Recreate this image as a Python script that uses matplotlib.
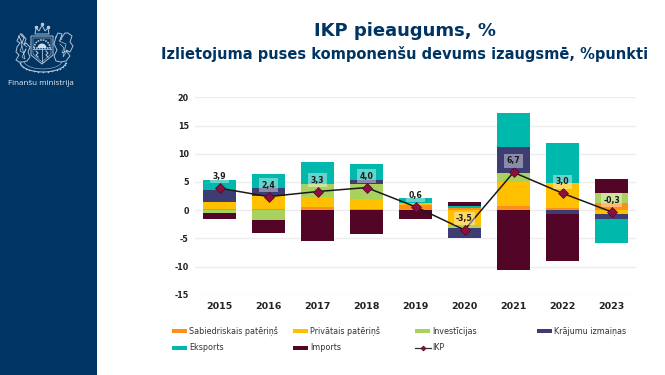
import matplotlib
matplotlib.use('Agg')
import matplotlib.pyplot as plt
from matplotlib.patches import Rectangle, Polygon, Wedge
import numpy as np

plt.rcParams['axes.unicode_minus'] = False

W, H = 665, 375

years = ['2015', '2016', '2017', '2018', '2019', '2020', '2021', '2022', '2023']
sabiedriskais = [0.2, 0.25, 0.6, 0.25, 0.95, 0.3, 0.65, 0.45, 1.3]
privatais = [1.3, 2.2, 1.7, 1.8, 0.3, -2.6, 4.3, 4.3, -0.75]
investicijas = [-0.5, -1.8, 2.3, 2.6, 0.1, -0.6, 1.65, 0.0, 1.8]
krajumi = [2.0, 1.5, 0.0, 0.7, 0.0, -1.8, 4.6, -0.6, -0.8]
eksports = [1.8, 2.4, 4.0, 2.8, 0.8, 0.35, 6.0, 7.1, -4.3]
imports = [-1.0, -2.3, -5.4, -4.2, -1.6, 0.8, -10.6, -8.4, 2.4]
ikp = [3.9, 2.4, 3.3, 4.0, 0.6, -3.5, 6.7, 3.0, -0.3]
ikp_labels = ['3,9', '2,4', '3,3', '4,0', '0,6', '-3,5', '6,7', '3,0', '-0,3']

series = [
    ('Sabiedriskais patēriņš', sabiedriskais, '#FF8F1C'),
    ('Privātais patēriņš', privatais, '#FFC000'),
    ('Investīcijas', investicijas, '#A9D15D'),
    ('Krājumu izmaiņas', krajumi, '#3D3D73'),
    ('Eksports', eksports, '#00B9AC'),
    ('Imports', imports, '#530527'),
]

fig = plt.figure(figsize=(W / 100, H / 100), dpi=100, facecolor='white')

# zila josla kreisaja puse
bg = fig.add_axes([0, 0, 1, 1])
bg.set_xlim(0, W)
bg.set_ylim(H, 0)
bg.axis('off')
bg.add_patch(Rectangle((0, 0), 97, H, color='#003462', lw=0))

# vienkarsots gerbonis
c = '#B4C3D5'
bg.add_patch(Polygon([(31, 36), (53, 36), (53, 55), (42, 64), (31, 55)], fc='none', ec=c, lw=0.7))
bg.add_patch(Polygon([(33, 38), (51, 38), (51, 54), (42, 62), (33, 54)], fc='none', ec=c, lw=0.4))
bg.add_patch(Wedge((42, 48), 8, 180, 360, fc='none', ec=c, lw=1.2, ls=(0, (1, 0.6))))
bg.add_patch(Wedge((42, 48), 4.5, 180, 360, fc='#D3DCE6', lw=0))
bg.plot([33, 51], [48.5, 48.5], color=c, lw=0.6)
bg.plot([42, 42], [48.5, 62], color=c, lw=0.6)
bg.plot([36, 38, 36, 38], [51, 53, 55, 57], color=c, lw=0.8)
bg.plot([46, 48, 46, 48], [51, 53, 55, 57], color=c, lw=0.8)
# saule un zvaigznes virs vairoga
bg.add_patch(Polygon([(35, 34), (36, 28), (39, 31), (42, 25), (45, 31), (48, 28), (49, 34)], fc='none', ec=c, lw=0.7))
bg.plot([36, 42, 48], [27, 24, 27], ls='none', marker='*', ms=2.2, color=c)
# lauva un grifs
bg.plot([19, 17, 20, 17, 16, 19, 16, 19, 23, 27, 30, 28, 30, 26, 24, 26, 22, 20, 24, 22, 19],
        [36, 41, 43, 47, 52, 55, 60, 62, 62, 61, 57, 52, 47, 43, 45, 39, 34, 34, 38, 43, 36], color=c, lw=0.7)
bg.plot([22, 20, 24, 26, 22, 25, 21, 27], [46, 51, 53, 49, 57, 59, 42, 47], color=c, lw=0.5)
bg.plot([56, 58, 62, 60, 65, 68, 72, 70, 73, 70, 66, 70, 66, 61, 56, 54, 57, 54, 56],
        [37, 33, 34, 40, 33, 33, 36, 42, 46, 52, 50, 56, 61, 62, 61, 56, 50, 44, 37], color=c, lw=0.7)
bg.plot([60, 64, 62, 67, 63, 66, 59, 62], [44, 48, 53, 51, 57, 44, 41, 39], color=c, lw=0.5)
# ozola zars
theta = np.linspace(0.1, np.pi - 0.1, 15)
bg.plot(43 + 23 * np.cos(theta), 62 + 10 * np.sin(theta), color=c, lw=0.8, marker='o', ms=1.1, mew=0)
bg.plot(43 + 19 * np.cos(theta), 61 + 8 * np.sin(theta), color=c, lw=0.4)
bg.text(8, 83.5, 'Finanšu ministrija', color='#E6ECF2', fontsize=5.8, family='Open Sans', va='center')

fig.text(405 / W, 1 - 31 / H, 'IKP pieaugums, %', ha='center', va='center',
         fontsize=13, fontweight='bold', color='#003462')
fig.text(405 / W, 1 - 54 / H, 'Izlietojuma puses komponenšu devums izaugsmē, %punkti', ha='center', va='center',
         fontsize=10.5, fontweight='bold', color='#003462')

# grafiks
y_top, y_bot = 97.3, 294.8
ax = fig.add_axes([195 / W, 1 - y_bot / H, 441 / W, (y_bot - y_top) / H])
ax.patch.set_alpha(0)
x = np.arange(len(years))

pos = np.zeros(len(years))
neg = np.zeros(len(years))
for name, vals, col in series:
    vals = np.array(vals)
    bottom = np.where(vals >= 0, pos, neg)
    ax.bar(x, vals, 0.67, bottom=bottom, color=col, lw=0, zorder=2, label=name)
    pos = pos + np.where(vals > 0, vals, 0)
    neg = neg + np.where(vals < 0, vals, 0)

ax.plot(x, ikp, color='#1A1A1A', lw=1.1, marker='D', ms=4.6, mfc='#8A0F3E', mec='#530527',
        mew=0.5, zorder=3)
for i, lab in enumerate(ikp_labels):
    ax.annotate(lab, (x[i], ikp[i]), xytext=(0, 8.3), textcoords='offset points', ha='center', va='center',
                fontsize=5.6, fontweight='bold', color='#1A1A1A', zorder=4,
                bbox=dict(boxstyle='square,pad=0.3', fc='white', ec='none', alpha=0.4))

ax.set_xlim(-0.5, 8.5)
ax.set_ylim(-15, 20)
ax.set_yticks(range(-15, 21, 5))
ax.set_xticks(x)
ax.set_xticklabels(years)
ax.grid(axis='y', color='#EDEDED', lw=1, zorder=0)
ax.set_axisbelow(True)
ax.tick_params(length=0)
ax.tick_params(axis='y', pad=4.5, labelsize=5.8, labelcolor='#222222')
ax.tick_params(axis='x', pad=5.5, labelsize=6.8, labelcolor='#222222')
for t in ax.get_xticklabels() + ax.get_yticklabels():
    t.set_fontweight('bold')
for s in ax.spines.values():
    s.set_visible(False)

# legenda
rows = [331, 348]
columns = [
    (172, [series[0], series[4]]),
    (293, [series[1], series[5]]),
    (415, [series[2], None]),
    (537, [series[3], None]),
]
for cx, items in columns:
    for ry, item in zip(rows, items):
        if item is None:
            continue
        name, _, col = item
        bg.add_patch(Rectangle((cx, ry - 2), 15, 3.5, color=col, lw=0))
        bg.text(cx + 17, ry, name, fontsize=5.8, va='center', color='#333333')
bg.plot([415, 431], [348, 348], color='#333333', lw=0.9)
bg.plot([423], [348], marker='D', ms=2.6, mfc='#8A0F3E', mec='#530527', mew=0.4)
bg.set_xlim(0, W)
bg.set_ylim(H, 0)
bg.text(432, 348, 'IKP', fontsize=5.8, va='center', color='#333333')

fig.savefig('out.png', dpi=100)
